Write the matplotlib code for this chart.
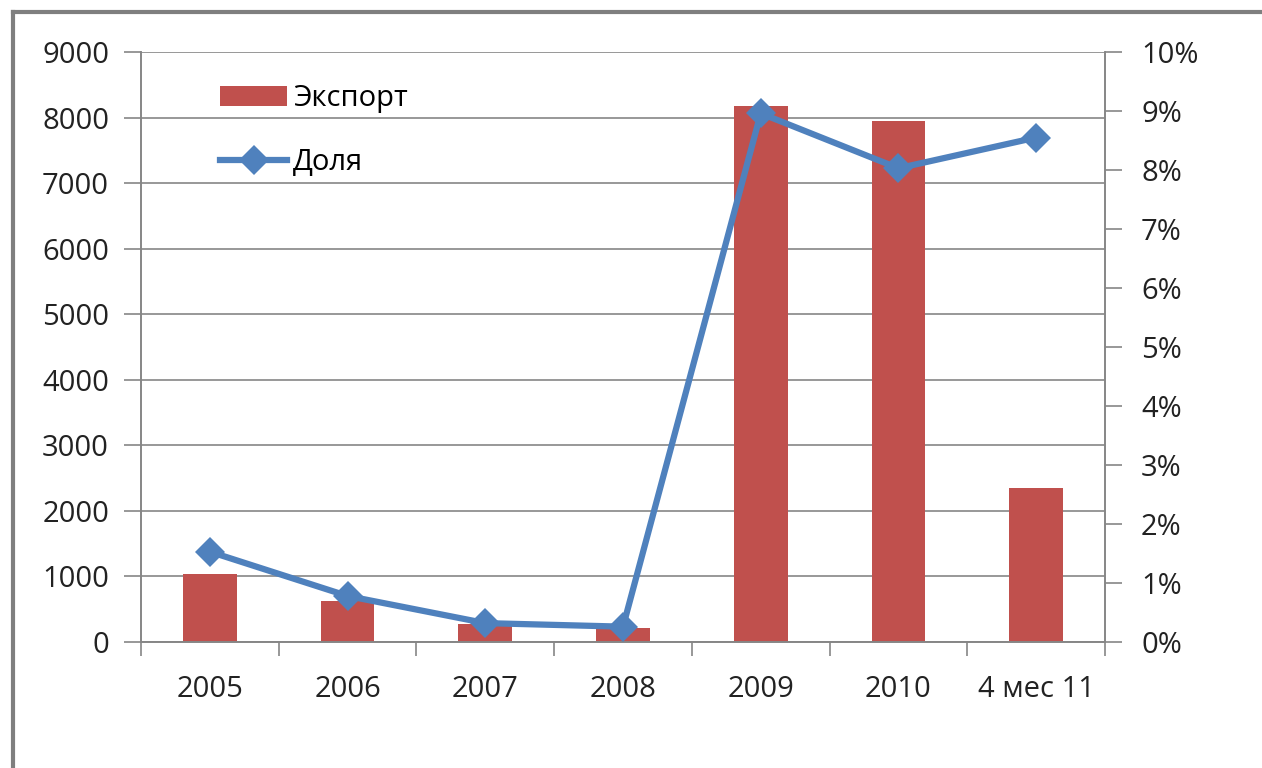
import numpy as np
import matplotlib
matplotlib.use('Agg')
import matplotlib.pyplot as plt
from matplotlib.lines import Line2D

plt.rcParams['font.family'] = ['Open Sans', 'DejaVu Sans']

# dati
categories = ['2005', '2006', '2007', '2008', '2009', '2010', '4 мес 11']
export = [1040, 625, 272, 215, 8180, 7940, 2350]
share = [1.53, 0.78, 0.32, 0.26, 8.96, 8.03, 8.55]

grey = '#868686'
x = np.arange(len(categories))

fig = plt.figure(figsize=(12.62, 7.68), dpi=100)
ax = fig.add_axes([141/1262, 1-642/768, (1105-141)/1262, (642-52)/768])

bars = ax.bar(x, export, width=0.39, color='#C0504D', zorder=2, label='Экспорт')
ax.set_ylim(0, 9000)
ax.set_xlim(-0.5, len(categories) - 0.5)
ax.set_yticks(np.arange(0, 9001, 1000))
ax.yaxis.grid(True, color=grey, linewidth=1.2, zorder=0)
ax.set_axisbelow(True)

# tick dell'asse x ai bordi delle categorie, etichette al centro
ax.set_xticks(np.arange(-0.5, len(categories), 1.0))
ax.set_xticklabels([])
ax.set_xticks(x, minor=True)
ax.set_xticklabels(categories, minor=True)
ax.tick_params(axis='x', which='minor', length=0, pad=24, labelsize=21, labelcolor='#222222')
ax.tick_params(axis='x', which='major', length=10, width=1.2, color=grey, direction='out')
ax.tick_params(axis='y', length=12, width=1.2, color=grey, labelsize=21, pad=11, labelcolor='#222222')

ax.spines['top'].set_visible(False)
for s in ['left', 'bottom', 'right']:
    ax.spines[s].set_color(grey)
    ax.spines[s].set_linewidth(1.2)

ax2 = ax.twinx()
ax2.plot(x, share, color='#4F81BD', linewidth=4.5, marker='D', markersize=15,
         markeredgewidth=0, zorder=3, label='Доля')
ax2.set_ylim(0, 10)
ax2.set_yticks(np.arange(0, 11, 1))
ax2.set_yticklabels([f'{v}%' for v in range(11)])
ax2.tick_params(axis='y', length=12, width=1.2, color=grey, labelsize=21, pad=14, labelcolor='#222222')
ax2.spines['top'].set_visible(False)
for s in ['left', 'bottom', 'right']:
    ax2.spines[s].set_color(grey)
    ax2.spines[s].set_linewidth(1.2)

handles = [bars, ax2.get_lines()[0]]
ax2.legend(handles, ['Экспорт', 'Доля'], loc='upper left', bbox_to_anchor=(0.07, 0.965),
           frameon=False, fontsize=21, handlelength=2.3, handletextpad=0.2,
           labelspacing=1.2, borderaxespad=0)

# cornice grigia della figura (solo sinistra e alto)
fig.add_artist(Line2D([13/1262, 13/1262], [0, 1-12/768], color='#7f7f7f', linewidth=3,
                      transform=fig.transFigure))
fig.add_artist(Line2D([13/1262, 1], [1-12/768, 1-12/768], color='#7f7f7f', linewidth=3,
                      transform=fig.transFigure))

fig.savefig('out.png', dpi=100)
